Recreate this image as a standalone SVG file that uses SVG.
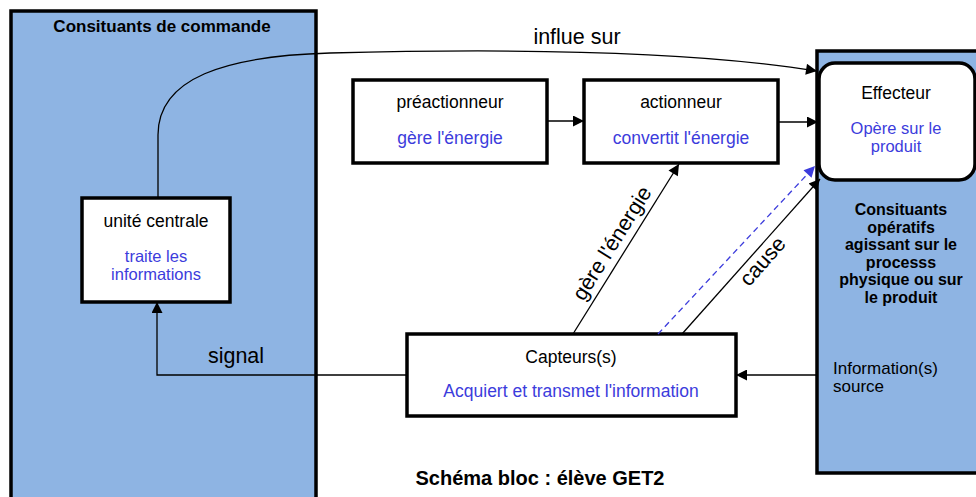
<svg xmlns="http://www.w3.org/2000/svg" width="976" height="497" viewBox="0 0 976 497">
<style>
text{font-family:"Liberation Sans",Arial,sans-serif;fill:#000}
.zone{fill:#8EB4E3;stroke:#000;stroke-width:3.5}
.box{fill:#fff;stroke:#000;stroke-width:3.5}
.t{font-size:17.5px;text-anchor:middle}
.t2{font-size:16.5px;text-anchor:middle}
.b{fill:#3C3CDC}
.bold{font-weight:bold;text-anchor:middle}
.lbl{font-size:21.5px}
.c{fill:none;stroke:#000;stroke-width:1.3}
.d{fill:none;stroke:#3C3CDC;stroke-width:1.3;stroke-dasharray:6 4}
</style>
<defs>
<marker id="ah" viewBox="0 0 10 10" refX="10" refY="5" markerWidth="13" markerHeight="11" orient="auto" markerUnits="userSpaceOnUse"><path d="M0,0 L10,5 L0,10 z" fill="#000"/></marker>
<marker id="ahb" viewBox="0 0 10 10" refX="10" refY="5" markerWidth="13" markerHeight="11" orient="auto" markerUnits="userSpaceOnUse"><path d="M0,0 L10,5 L0,10 z" fill="#3C3CDC"/></marker>
</defs>

<g id="commande">
<rect class="zone" x="11" y="11" width="305" height="500"/>
<text class="bold" x="162" y="32" font-size="17">Consituants de commande</text>
</g>

<g id="operatifs">
<rect class="zone" x="817" y="51" width="200" height="422"/>
<text class="bold" font-size="16"><tspan x="901" y="215">Consituants</tspan><tspan x="901" y="232.5">opératifs</tspan><tspan x="901" y="250">agissant sur le</tspan><tspan x="901" y="267.5">processs</tspan><tspan x="901" y="285">physique ou sur</tspan><tspan x="901" y="302.5">le produit</tspan></text>
<text font-size="17"><tspan x="833" y="374">Information(s)</tspan><tspan x="833" y="392">source</tspan></text>
</g>

<g id="effecteur">
<rect class="box" x="819" y="63" width="156" height="117" rx="16"/>
<text class="t" x="896" y="99">Effecteur</text>
<text class="t2 b"><tspan x="896" y="134">Opère sur le</tspan><tspan x="896" y="152">produit</tspan></text>
</g>

<g id="preactionneur">
<rect class="box" x="353" y="80" width="194" height="83"/>
<text class="t" x="450" y="108">préactionneur</text>
<text class="t b" x="450" y="144">gère l'énergie</text>
</g>

<g id="actionneur">
<rect class="box" x="584" y="80" width="194" height="83"/>
<text class="t" x="681" y="108">actionneur</text>
<text class="t b" x="681" y="144">convertit l'énergie</text>
</g>

<g id="unite">
<rect class="box" x="82" y="198" width="148" height="104"/>
<text class="t" x="156" y="227">unité centrale</text>
<text class="t2 b"><tspan x="156" y="262">traite les</tspan><tspan x="156" y="280">informations</tspan></text>
</g>

<g id="capteurs">
<rect class="box" x="407" y="334" width="329" height="82"/>
<text class="t" x="571" y="363">Capteurs(s)</text>
<text class="t b" x="571" y="397" font-size="18.5">Acquiert et transmet l'information</text>
</g>

<g id="connectors">
<path class="c" d="M158,198 V135 C158,78 225,56 330,53 C520,48 700,52 817,71" marker-end="url(#ah)"/>
<text class="lbl" x="577" y="44" text-anchor="middle">influe sur</text>
<line class="c" x1="547" y1="121" x2="584" y2="121" marker-end="url(#ah)"/>
<line class="c" x1="778" y1="122" x2="818" y2="122" marker-end="url(#ah)"/>
<polyline class="c" points="407,375 157,375 157,302" marker-end="url(#ah)"/>
<text class="lbl" x="236" y="363" text-anchor="middle">signal</text>
<line class="c" x1="816" y1="375" x2="736" y2="375" marker-end="url(#ah)"/>
<line class="c" x1="573" y1="334" x2="679" y2="164" marker-end="url(#ah)"/>
<text class="lbl" text-anchor="middle" transform="translate(618,247) rotate(-58)">gère l'énergie</text>
<line class="c" x1="682" y1="334" x2="820" y2="179" marker-end="url(#ah)"/>
<text class="lbl" text-anchor="middle" transform="translate(768,266) rotate(-48.5)">cause</text>
<line class="d" x1="658" y1="334" x2="815" y2="166" marker-end="url(#ahb)"/>
</g>

<text class="bold" x="540" y="485" font-size="20">Schéma bloc : élève GET2</text>
</svg>
